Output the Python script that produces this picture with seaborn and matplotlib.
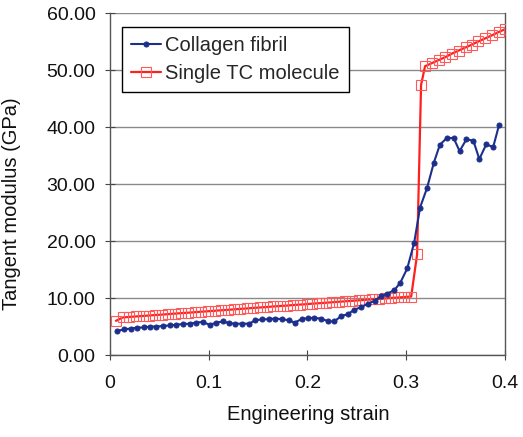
import matplotlib
matplotlib.use("Agg")
import matplotlib.pyplot as plt
import seaborn as sns
import pandas as pd
from matplotlib.ticker import FormatStrFormatter

# ---- data ----
fibril_strain = [0.007, 0.014, 0.021, 0.027, 0.034, 0.041, 0.047, 0.054, 0.061, 0.067,
                 0.074, 0.081, 0.087, 0.094, 0.101, 0.107, 0.114, 0.121, 0.127, 0.134,
                 0.141, 0.147, 0.154, 0.161, 0.167, 0.174, 0.181, 0.187, 0.194, 0.201,
                 0.207, 0.214, 0.221, 0.227, 0.234, 0.241, 0.247, 0.254, 0.261, 0.268,
                 0.274, 0.281, 0.288, 0.294, 0.301, 0.308, 0.314, 0.321, 0.328, 0.334,
                 0.341, 0.348, 0.354, 0.361, 0.368, 0.374, 0.381, 0.388, 0.394]
fibril_modulus = [4.2, 4.5, 4.65, 4.8, 4.85, 5.0, 5.0, 5.1, 5.2, 5.3,
                  5.45, 5.5, 5.7, 5.8, 5.3, 5.65, 5.9, 5.6, 5.5, 5.5,
                  5.5, 6.1, 6.25, 6.3, 6.4, 6.3, 6.1, 5.7, 6.3, 6.5,
                  6.5, 6.4, 5.9, 5.9, 6.8, 7.2, 7.9, 8.4, 9.0, 9.5,
                  10.3, 10.8, 11.4, 12.7, 15.2, 19.7, 25.9, 29.3, 33.8, 36.9,
                  38.1, 38.1, 35.8, 37.9, 37.6, 34.4, 37.0, 36.5, 40.4]

tc_strain = [0.006, 0.013, 0.019, 0.026, 0.033, 0.039, 0.046, 0.053, 0.059, 0.066,
             0.072, 0.079, 0.086, 0.092, 0.099, 0.106, 0.112, 0.119, 0.126, 0.132,
             0.139, 0.145, 0.152, 0.159, 0.165, 0.172, 0.179, 0.185, 0.192, 0.199,
             0.205, 0.212, 0.219, 0.225, 0.232, 0.238, 0.245, 0.252, 0.258, 0.265,
             0.272, 0.278, 0.285, 0.292, 0.298, 0.305, 0.311, 0.315, 0.319, 0.326,
             0.333, 0.3395, 0.346, 0.353, 0.360, 0.3665, 0.373, 0.380, 0.387, 0.3935,
             0.400]
tc_modulus = [6.0, 6.6, 6.68, 6.77, 6.85, 6.93, 7.02, 7.10, 7.18, 7.27,
              7.35, 7.43, 7.52, 7.60, 7.68, 7.77, 7.85, 7.93, 8.02, 8.10,
              8.18, 8.27, 8.35, 8.43, 8.52, 8.60, 8.68, 8.77, 8.85, 8.93,
              9.02, 9.10, 9.18, 9.27, 9.35, 9.43, 9.52, 9.60, 9.68, 9.77,
              9.85, 9.93, 10.02, 10.10, 10.18, 10.27, 17.7, 47.4, 50.7, 51.25,
              51.8, 52.3, 52.9, 53.45, 54.0, 54.5, 55.05, 55.6, 56.15, 56.7,
              57.2]

x_ticks = [0, 0.1, 0.2, 0.3, 0.4]
x_tick_labels = ["0", "0.1", "0.2", "0.3", "0.4"]
y_ticks = [0, 10, 20, 30, 40, 50, 60]

fibril_df = pd.DataFrame({"strain": fibril_strain, "modulus": fibril_modulus})
tc_df = pd.DataFrame({"strain": tc_strain, "modulus": tc_modulus})

sns.set_style("white")
plt.rcParams["font.family"] = ["Liberation Sans", "DejaVu Sans"]

BLUE = "#1c2f8c"
RED = "#ff1f1f"

fig = plt.figure(figsize=(5.23, 4.37), dpi=100)
ax = fig.add_axes([0.2103, 0.1876, 0.7553, 0.782])

sns.lineplot(data=tc_df, x="strain", y="modulus", ax=ax, sort=False, estimator=None,
             color=RED, linewidth=1.6, marker="s", markersize=7.2,
             markerfacecolor="none", markeredgecolor="#ff5a5a", markeredgewidth=0.8,
             label="Single TC molecule", zorder=3)
sns.lineplot(data=fibril_df, x="strain", y="modulus", ax=ax, sort=False, estimator=None,
             color=BLUE, linewidth=1.5, marker="o", markersize=3.6,
             markerfacecolor=BLUE, markeredgecolor=BLUE,
             label="Collagen fibril", zorder=4)

ax.set_xlim(0, 0.4)
ax.set_ylim(0, 60)
ax.set_xticks(x_ticks)
ax.set_xticklabels(x_tick_labels)
ax.set_yticks(y_ticks)
ax.yaxis.set_major_formatter(FormatStrFormatter("%.2f"))

ax.yaxis.grid(True, color="#8a8a8a", linewidth=1.0)
ax.xaxis.grid(False)
ax.set_axisbelow(True)

for side in ["left", "bottom", "right"]:
    ax.spines[side].set_visible(True)
    ax.spines[side].set_color("#555555")
    ax.spines[side].set_linewidth(1.0)
ax.spines["top"].set_visible(False)

ax.tick_params(axis="both", which="major", bottom=True, left=True, direction="inout",
               length=7, width=0.8, color="#444444", labelsize=14, labelcolor="#111111")
ax.tick_params(axis="x", pad=11)
ax.tick_params(axis="y", pad=7)

ax.set_xlabel("Engineering strain", fontsize=14.5, color="#111111")
ax.set_ylabel("Tangent modulus (GPa)", fontsize=14.5, color="#111111")
ax.xaxis.set_label_coords(0.5025, -0.147)
ax.yaxis.set_label_coords(-0.225, 0.443)

handles, labels = ax.get_legend_handles_labels()
order = [labels.index("Collagen fibril"), labels.index("Single TC molecule")]
leg = ax.legend([handles[i] for i in order], [labels[i] for i in order],
                loc="upper left", bbox_to_anchor=(0.03, 0.961), borderaxespad=0,
                frameon=True, fancybox=False, framealpha=1, edgecolor="black",
                fontsize=14.5, handlelength=1.5, handletextpad=0.2,
                labelspacing=0.45, borderpad=0.45, numpoints=1)
leg.get_frame().set_linewidth(1.0)

fig.savefig("out.png", dpi=100)
